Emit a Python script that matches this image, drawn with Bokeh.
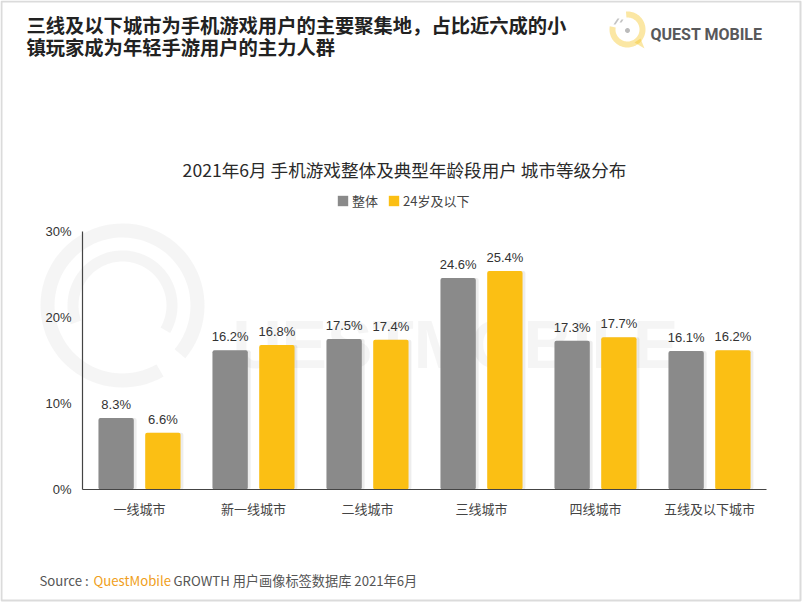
import numpy as np
from bokeh.plotting import figure
from bokeh.models import (Range1d, Label, FixedTicker, PolyAnnotation,
                          ColumnDataSource, Legend, LegendItem)
from bokeh.core.properties import value
from bokeh.embed import file_html
from bokeh.resources import INLINE

# ---------------- data ----------------
categories = ["一线城市", "新一线城市", "二线城市", "三线城市", "四线城市", "五线及以下城市"]
overall = [8.3, 16.2, 17.5, 24.6, 17.3, 16.1]
young = [6.6, 16.8, 17.4, 25.4, 17.7, 16.2]
series_names = ["整体", "24岁及以下"]
y_ticks = [0, 10, 20, 30]
y_tick_labels = {0: "0%", 10: "10%", 20: "20%", 30: "30%"}

header_lines = ["三线及以下城市为手机游戏用户的主要聚集地，占比近六成的小",
                "镇玩家成为年轻手游用户的主力人群"]
chart_title = "2021年6月 手机游戏整体及典型年龄段用户 城市等级分布"
source_parts = ["Source :", "QuestMobile", "GROWTH 用户画像标签数据库 2021年6月"]

# ---------------- style / layout ----------------
GRAY = "#8a8a8a"
YELLOW = "#fbbf14"
CJK = "Noto Sans CJK SC"
LAT = "Liberation Sans"

W, H = 802, 602
AX_L, AX_R, AX_T, AX_B = 82, 766, 231, 489     # plot area in canvas px
n = len(categories)
ymax = y_ticks[-1]
ppx = (AX_R - AX_L) / n        # px per category
ppy = (AX_B - AX_T) / ymax     # px per percent


def scr(X, Y):
    """canvas pixel (from top-left) -> screen units of the full-canvas frame"""
    return X, H - Y


xpos = np.arange(n) + 0.5
src = ColumnDataSource(dict(
    xg=xpos - 0.205, xy=xpos + 0.205, overall=overall, young=young,
    overall_txt=[f"{v:.1f}%" for v in overall],
    young_txt=[f"{v:.1f}%" for v in young],
))

p = figure(width=W, height=H,
           x_range=Range1d(-AX_L / ppx, (W - AX_L) / ppx),
           y_range=Range1d(-(H - AX_B) / ppy, AX_B / ppy),
           output_backend="svg", toolbar_location=None,
           min_border=0, min_border_left=0, min_border_right=0,
           min_border_top=0, min_border_bottom=0)
p.outline_line_color = None
p.background_fill_color = "white"
p.border_fill_color = "white"
p.xgrid.visible = False
p.ygrid.visible = False

# axes drawn at fixed positions inside the full-canvas frame
p.yaxis.fixed_location = 0
p.yaxis.bounds = (0, ymax)
p.yaxis.ticker = FixedTicker(ticks=y_ticks)
p.yaxis.major_label_overrides = y_tick_labels
p.yaxis.major_tick_line_color = None
p.yaxis.minor_tick_line_color = None
p.yaxis.major_tick_out = 0
p.yaxis.minor_tick_out = 0
p.yaxis.axis_line_color = "#444444"
p.yaxis.axis_line_width = 1.2
p.yaxis.major_label_text_font = LAT
p.yaxis.major_label_text_font_size = "13px"
p.yaxis.major_label_text_color = "#333333"
p.yaxis.major_label_standoff = 11

p.xaxis.fixed_location = 0
p.xaxis.bounds = (0, n)
p.xaxis.ticker = FixedTicker(ticks=list(xpos))
p.xaxis.major_label_overrides = {float(x): c for x, c in zip(xpos, categories)}
p.xaxis.major_tick_line_color = None
p.xaxis.minor_tick_line_color = None
p.xaxis.major_tick_out = 0
p.xaxis.minor_tick_out = 0
p.xaxis.axis_line_color = "#444444"
p.xaxis.axis_line_width = 1.2
p.xaxis.major_label_text_font = CJK
p.xaxis.major_label_text_font_size = "13px"
p.xaxis.major_label_text_color = "#444444"
p.xaxis.major_label_standoff = 9


def ring(cx, cy, r_out, r_in, a0, a1, m=80):
    t = np.linspace(np.radians(a0), np.radians(a1), m)
    xs = list(cx + r_out * np.cos(t)) + list(cx + r_in * np.cos(t[::-1]))
    ys = list(cy - r_out * np.sin(t)) + list(cy - r_in * np.sin(t[::-1]))
    pts = [scr(x, y) for x, y in zip(xs, ys)]
    return [q[0] for q in pts], [q[1] for q in pts]


# faint watermark
for (ro, ri, a0, a1) in [(82, 68, -40, 300), (55, 44, -30, 200)]:
    xs, ys = ring(122, 305, ro, ri, a0, a1)
    p.add_layout(PolyAnnotation(xs=xs, ys=ys, xs_units="screen", ys_units="screen",
                                fill_color="#ececec", fill_alpha=0.5, line_alpha=0,
                                level="underlay"))
wx, wy = scr(232, 343)
p.add_layout(Label(x=wx, y=wy, x_units="screen", y_units="screen", text="UESTMOBILE",
                   text_font="Liberation Sans", text_font_style="bold",
                   text_font_size="68px", text_color="#eeeeee", text_alpha=0.6,
                   text_baseline="middle", level="underlay"))

# bar shadows
sh = ColumnDataSource(dict(xg=xpos - 0.205 + 0.025, xy=xpos + 0.205 + 0.025,
                           overall=overall, young=young))
p.vbar(x="xg", top="overall", width=0.31, source=sh, border_radius=2,
       fill_color="#000000", fill_alpha=0.07, line_color=None)
p.vbar(x="xy", top="young", width=0.31, source=sh, border_radius=2,
       fill_color="#000000", fill_alpha=0.07, line_color=None)

# bars
r1 = p.vbar(x="xg", top="overall", width=0.31, source=src, border_radius=2,
            fill_color=GRAY, line_color=None)
r2 = p.vbar(x="xy", top="young", width=0.31, source=src, border_radius=2,
            fill_color=YELLOW, line_color=None)

# value labels
for xc, col, tcol in [("xg", "overall", "overall_txt"), ("xy", "young", "young_txt")]:
    p.text(x=xc, y=col, text=tcol, source=src,
           text_font=value(LAT), text_font_size="13px", text_color="#333333",
           text_align="center", text_baseline="bottom", y_offset=-6)

# legend
lx, ly = scr(336, 210)
legend = Legend(items=[LegendItem(label=series_names[0], renderers=[r1]),
                       LegendItem(label=series_names[1], renderers=[r2])],
                orientation="horizontal", location=(lx, ly),
                glyph_width=13, glyph_height=13, label_height=13,
                label_text_font=CJK, label_text_font_size="13px",
                label_text_color="#444444",
                label_standoff=3, spacing=9, padding=2, margin=0,
                border_line_color=None, background_fill_alpha=0)
p.add_layout(legend, "center")

# header texts
for i, line in enumerate(header_lines):
    x, y = scr(26, 24 + 22 * i)
    p.add_layout(Label(x=x, y=y, x_units="screen", y_units="screen", text=line,
                       text_font=CJK, text_font_style="bold",
                       text_font_size="19.3px", text_color="#222222",
                       text_baseline="middle"))

x, y = scr(404, 169)
p.add_layout(Label(x=x, y=y, x_units="screen", y_units="screen", text=chart_title,
                   text_font=CJK, text_font_size="17.6px", text_color="#2a2a2a",
                   text_align="center", text_baseline="middle"))

# source
for txt, X, col in zip(source_parts, [39, 93, 173], ["#555555", "#f0a020", "#555555"]):
    x, y = scr(X, 580)
    p.add_layout(Label(x=x, y=y, x_units="screen", y_units="screen", text=txt,
                       text_font=CJK, text_font_size="13.2px", text_color=col,
                       text_baseline="middle"))

# logo
xs, ys = ring(627, 29, 18, 12, 170, 455)
p.add_layout(PolyAnnotation(xs=xs, ys=ys, xs_units="screen", ys_units="screen",
                            fill_color="#f6c31c", line_alpha=0))
tail = [scr(*q) for q in [(634, 42), (644, 48), (640, 38)]]
p.add_layout(PolyAnnotation(xs=[q[0] for q in tail], ys=[q[1] for q in tail],
                            xs_units="screen", ys_units="screen",
                            fill_color="#f6c31c", line_alpha=0))
dot = ring(627, 30, 2.5, 0, 0, 360, 20)
p.add_layout(PolyAnnotation(xs=dot[0], ys=dot[1], xs_units="screen", ys_units="screen",
                            fill_color="#555555", line_alpha=0))
for (a, b) in [((613, 24), (617, 18)), ((619, 22), (621, 19))]:
    d = [scr(*a), scr(*b)]
    p.add_layout(PolyAnnotation(xs=[d[0][0], d[1][0], d[1][0] + 2, d[0][0] + 2],
                                ys=[d[0][1], d[1][1], d[1][1], d[0][1]],
                                xs_units="screen", ys_units="screen",
                                fill_color="#666666", line_alpha=0))
x, y = scr(650, 34)
p.add_layout(Label(x=x, y=y, x_units="screen", y_units="screen", text="QUEST MOBILE",
                   text_font="Roboto", text_font_style="bold",
                   text_font_size="16px", text_color="#58585a", text_baseline="middle"))

# border
bx = [scr(*q) for q in [(1, 1), (800, 1), (800, 600), (1, 600)]]
p.add_layout(PolyAnnotation(xs=[q[0] for q in bx], ys=[q[1] for q in bx],
                            xs_units="screen", ys_units="screen",
                            fill_alpha=0, line_color="#888888", line_width=2))

open("out.html", "w").write(file_html(p, INLINE))
